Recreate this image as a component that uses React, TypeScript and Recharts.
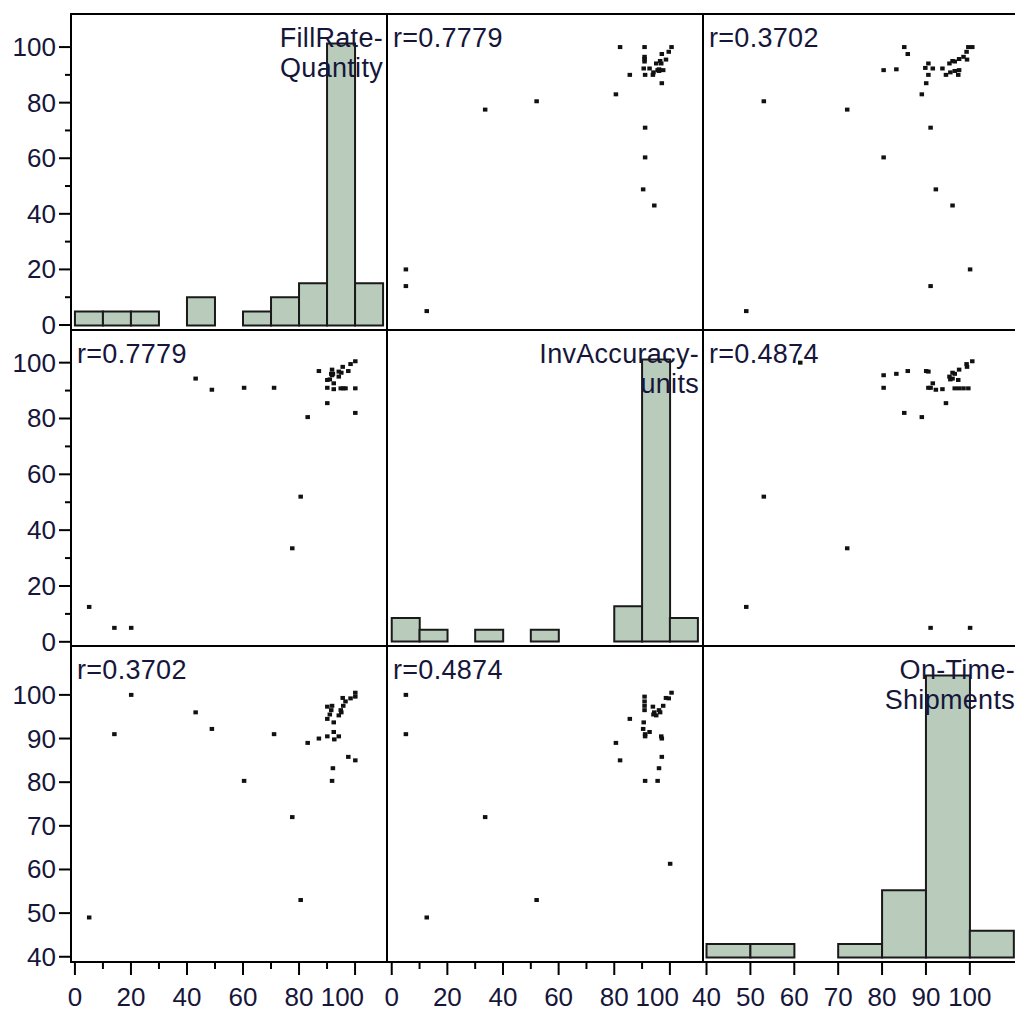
import React from "react";
import { ComposedChart, Scatter, Bar, XAxis, YAxis } from "recharts";

// one entry per site, null = not reported
const fillRate = [20, 14, 5, 77.5, 80.5, 83, 100, 90, 43, 48.8, 60.3, 71, 87, null, 91.7, 92, 97.5, 94.8, 95.7, 96.5, 100, 100, 98.3, 95.5, 95, 94.1, 94.1, 92.3, 92.3, 90, 90.9, 91.4, 91.7, 90, 92.5];
const invAccuracy = [5, 5, 12.5, 33.5, 52, 80.5, 82, 85.5, 94.3, 90.3, 91, 91, 97, 100, 95.5, 96, 97, 90.8, 90.8, 90.8, 90.8, 100.5, 99.5, 98.5, 96.4, 95, 96.8, 92.6, 90.5, 91, 94, 96, 97.5, 93.8, null];
const onTime = [100, 91, 49, 72, 53, 89, 85, 94.5, 96, 92.2, 80.3, 91, 90, 61.3, 80.3, 83.2, 85.8, 96.5, 97.5, 98.5, 99.6, 100.5, 99.2, 99.3, 96, 95.3, 90.5, 91.5, 93.7, 90.5, 95.5, 96.5, 97.5, 97.3, 89.8];

// histogram bins (left edges, width 10) and counts
const pctBins = [0, 10, 20, 30, 40, 50, 60, 70, 80, 90, 100];
const fillRateCounts = [1, 1, 1, 0, 2, 0, 1, 2, 3, 20, 3];
const invAccuracyCounts = [2, 1, 0, 1, 0, 1, 0, 0, 3, 24, 2];
const onTimeBins = [40, 50, 60, 70, 80, 90, 100];
const onTimeCounts = [1, 1, 0, 1, 5, 21, 2];

// axis ticks
const pctTicks = [0, 10, 20, 30, 40, 50, 60, 70, 80, 90, 100];
const pctLabels = [0, 20, 40, 60, 80, 100];
const onTimeTicks = [40, 50, 60, 70, 80, 90, 100];

const titles = [["FillRate-", "Quantity"], ["InvAccuracy-", "units"], ["On-Time-", "Shipments"]];
const corr = [
  ["", "0.7779", "0.3702"],
  ["0.7779", "", "0.4874"],
  ["0.3702", "0.4874", ""],
];

const vars = [
  { values: fillRate, bins: pctBins, counts: fillRateCounts, ticks: pctTicks, labels: pctLabels, tuckLast: true },
  { values: invAccuracy, bins: pctBins, counts: invAccuracyCounts, ticks: pctTicks, labels: pctLabels, tuckLast: true },
  { values: onTime, bins: onTimeBins, counts: onTimeCounts, ticks: onTimeTicks, labels: onTimeTicks, tuckLast: false },
];

// layout
const COL_X = [71, 387, 703];
const ROW_Y = [14, 330, 646];
const SIZE = 316;
const AXIS_W = 71;
const AXIS_H = 50;
const X_DOM: [number, number][] = [[-1.4, 111.4], [-1.7, 111.9], [39.2, 111.2]];
const Y_DOM: [number, number][] = [[-1.8, 111.9], [-1.5, 111.7], [38.8, 111.2]];
const FONT = '"Liberation Sans", Arial, sans-serif';
const INK = "#16163a";

const XTick = (p: any) => {
  const major = p.labels.includes(p.payload.value);
  // the last label of a 0-100 axis is pulled left so it does not run into the next panel
  const tuck = p.tuckLast && p.payload.value === p.labels[p.labels.length - 1];
  return (
    <g>
      <line x1={p.x} y1={p.y} x2={p.x} y2={p.y + (major ? 13 : 7)} stroke="#000" strokeWidth={2} />
      {major && (
        <text
          x={tuck ? p.x + 9 : p.x}
          y={p.y + 44}
          textAnchor={tuck ? "end" : "middle"}
          fontFamily={FONT}
          fontSize={26}
          fill={INK}
        >
          {p.payload.value}
        </text>
      )}
    </g>
  );
};

const YTick = (p: any) => {
  const major = p.labels.includes(p.payload.value);
  return (
    <g>
      <line x1={p.x - (major ? 12 : 6)} y1={p.y} x2={p.x} y2={p.y} stroke="#000" strokeWidth={2} />
      {major && (
        <text x={p.x - 15} y={p.y + 9} textAnchor="end" fontFamily={FONT} fontSize={26} fill={INK}>
          {p.payload.value}
        </text>
      )}
    </g>
  );
};

const Dot = (p: any) => <rect x={p.cx - 2} y={p.cy - 2} width={4.5} height={4} fill="#111" />;

function Panel({ r, c }: { r: number; c: number }) {
  const showY = c === 0;
  const showX = r === 2;
  const diag = r === c;
  const vx = vars[c];
  const vy = vars[r];
  const w = SIZE + (showY ? AXIS_W : 0);
  const h = SIZE + (showX ? AXIS_H : 0);

  const bins = diag ? vx.bins.map((b, i) => ({ bin: String(b), count: vx.counts[i] })) : undefined;
  const pts = diag
    ? []
    : vx.values
        .map((v, i) => ({ x: v, y: vy.values[i] }))
        .filter((d) => d.x != null && d.y != null);

  // category padding so every band is exactly one 10-unit bin on the value axis
  const [x0, x1] = X_DOM[c];
  const unit = SIZE / (x1 - x0);
  const padL = (vx.bins[0] - x0) * unit;
  const padR = (x1 - (vx.bins[vx.bins.length - 1] + 10)) * unit;
  const maxCount = Math.max(...vx.counts);

  return (
    <div style={{ position: "absolute", left: COL_X[c] - (showY ? AXIS_W : 0), top: ROW_Y[r] }}>
      <ComposedChart
        width={w}
        height={h}
        data={bins}
        margin={{ top: 0, right: 0, bottom: 0, left: 0 }}
        barCategoryGap={0}
        barGap={0}
      >
        <XAxis
          xAxisId="x"
          type="number"
          dataKey="x"
          orientation="bottom"
          domain={X_DOM[c]}
          allowDataOverflow
          ticks={vx.ticks}
          interval={0}
          hide={!showX}
          height={AXIS_H}
          tickSize={0}
          tickMargin={0}
          axisLine={false}
          tickLine={false}
          tick={(p: any) => <XTick {...p} labels={vx.labels} tuckLast={vx.tuckLast} />}
        />
        <YAxis
          yAxisId="y"
          type="number"
          dataKey="y"
          orientation="left"
          domain={Y_DOM[r]}
          allowDataOverflow
          ticks={vy.ticks}
          interval={0}
          hide={!showY}
          width={AXIS_W}
          tickSize={0}
          tickMargin={0}
          axisLine={false}
          tickLine={false}
          tick={(p: any) => <YTick {...p} labels={vy.labels} />}
        />
        {diag && (
          <XAxis
            xAxisId="bins"
            type="category"
            dataKey="bin"
            orientation="top"
            hide
            padding={{ left: padL, right: padR }}
          />
        )}
        {diag && (
          <YAxis
            yAxisId="count"
            type="number"
            orientation="right"
            domain={[-0.016 * maxCount, 1.1046 * maxCount]}
            allowDataOverflow
            hide
          />
        )}
        {diag && (
          <Bar
            xAxisId="bins"
            yAxisId="count"
            dataKey="count"
            fill="#b9cbbb"
            stroke="#1a1a1a"
            strokeWidth={2}
            isAnimationActive={false}
          />
        )}
        {!diag && (
          <Scatter xAxisId="x" yAxisId="y" data={pts} dataKey="y" shape={Dot} isAnimationActive={false} />
        )}
      </ComposedChart>
    </div>
  );
}

export default function App() {
  const cells = [0, 1, 2].flatMap((r) => [0, 1, 2].map((c) => ({ r, c })));
  const text = {
    fontFamily: FONT,
    fontSize: 27,
    letterSpacing: "0.3px",
    lineHeight: "30px",
    color: INK,
    whiteSpace: "nowrap" as const,
  };
  return (
    <div
      style={{
        position: "absolute",
        left: 0,
        top: 0,
        width: 1015,
        height: 1011,
        overflow: "hidden",
        background: "#fff",
      }}
    >
      <style>{".recharts-surface{overflow:visible}"}</style>
      {cells.map(({ r, c }) => (
        <Panel key={`p${r}${c}`} r={r} c={c} />
      ))}
      {cells.map(({ r, c }) => (
        <div
          key={`b${r}${c}`}
          style={{
            position: "absolute",
            left: COL_X[c] - 1,
            top: ROW_Y[r] - 1,
            width: SIZE + 2,
            height: SIZE + 2,
            border: "2px solid #000",
            boxSizing: "border-box",
          }}
        />
      ))}
      {cells.map(({ r, c }) =>
        r === c ? (
          <div
            key={`t${r}`}
            style={{ ...text, position: "absolute", left: COL_X[c], top: ROW_Y[r] + 9, width: SIZE - 4, textAlign: "right" }}
          >
            {titles[r][0]}
            <br />
            {titles[r][1]}
          </div>
        ) : (
          <div key={`r${r}${c}`} style={{ ...text, position: "absolute", left: COL_X[c] + 6, top: ROW_Y[r] + 9 }}>
            r={corr[r][c]}
          </div>
        )
      )}
    </div>
  );
}
